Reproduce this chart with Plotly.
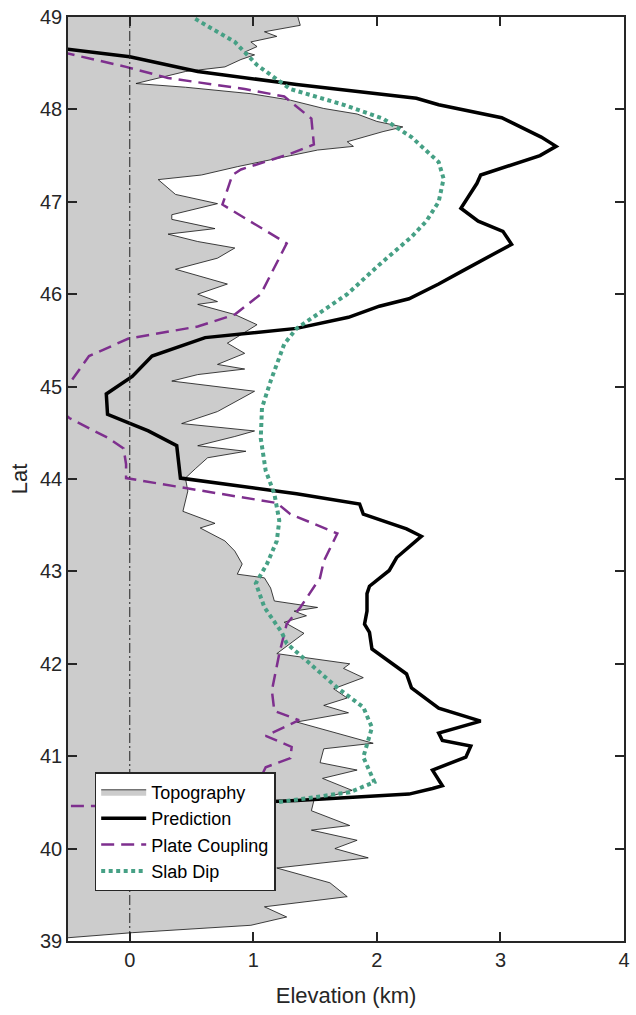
import plotly.graph_objects as go

# ---------------- data ----------------
topo_lat = [49.05, 48.91, 48.84, 48.79, 48.73, 48.68, 48.62, 48.59, 48.54, 48.46, 48.41, 48.28,
            48.24, 48.17, 48.10, 48.01, 47.95, 47.87, 47.81, 47.76, 47.65, 47.60, 47.56, 47.47,
            47.38, 47.29, 47.24, 47.08, 46.98, 46.86, 46.81, 46.71, 46.65, 46.57, 46.50, 46.39,
            46.27, 46.11, 46.00, 45.92, 45.89, 45.78, 45.67, 45.47, 45.36, 45.24, 45.19, 45.13,
            45.06, 44.95, 44.73, 44.60, 44.52, 44.46, 44.36, 44.30, 44.23, 44.11, 44.01, 43.87,
            43.65, 43.52, 43.47, 43.33, 43.22, 43.08, 42.97, 42.93, 42.82, 42.68, 42.61, 42.57,
            42.52, 42.45, 42.33, 42.11, 42.00, 41.95, 41.85, 41.73, 41.63, 41.55, 41.47, 41.37,
            41.26, 41.14, 41.08, 40.93, 40.85, 40.76, 40.63, 40.52, 40.41, 40.25, 40.20, 40.09,
            40.00, 39.90, 39.79, 39.63, 39.48, 39.37, 39.26, 39.17, 39.09, 39.03]
topo_elev = [1.35, 1.38, 1.09, 1.19, 0.98, 1.03, 0.93, 1.01, 0.90, 0.77, 0.45, 0.05,
             0.45, 0.98, 1.30, 1.57, 1.84, 2.00, 2.21, 2.05, 1.76, 1.81, 1.52, 1.19,
             0.87, 0.58, 0.23, 0.37, 0.71, 0.34, 0.34, 0.69, 0.31, 0.55, 0.85, 0.71,
             0.37, 0.79, 0.55, 0.71, 0.55, 0.85, 1.03, 0.79, 0.93, 0.71, 0.93, 0.55,
             0.34, 1.01, 0.71, 0.42, 1.01, 0.85, 0.55, 0.94, 0.63, 0.53, 0.45, 0.47,
             0.43, 0.69, 0.57, 0.77, 0.85, 0.91, 0.87, 1.09, 1.14, 1.17, 1.52, 1.33,
             1.43, 1.25, 1.41, 1.19, 1.78, 1.73, 1.89, 1.65, 1.76, 1.57, 1.77, 1.35,
             1.65, 1.97, 1.57, 1.54, 1.84, 1.56, 1.80, 1.49, 1.47, 1.78, 1.47, 1.84,
             1.66, 1.93, 1.19, 1.62, 1.76, 1.09, 1.27, 0.98, 0.02, -0.55]

pred_lat = [48.66, 48.57, 48.41, 48.27, 48.12, 48.05, 47.91, 47.70, 47.60, 47.50, 47.29, 47.20,
            46.93, 46.79, 46.68, 46.54, 46.25, 46.11, 45.95, 45.87, 45.75, 45.63, 45.53, 45.33,
            45.11, 44.92, 44.70, 44.52, 44.36, 44.01, 43.84, 43.73, 43.62, 43.46, 43.38, 43.15,
            43.01, 42.84, 42.76, 42.57, 42.43, 42.34, 42.16, 41.89, 41.74, 41.52, 41.38, 41.25,
            41.17, 41.11, 40.99, 40.85, 40.68, 40.65, 40.59, 40.56, 40.52, 40.50]
pred_elev = [-0.55, 0.00, 0.55, 1.35, 2.32, 2.50, 3.01, 3.33, 3.45, 3.32, 2.84, 2.81,
             2.68, 2.82, 3.02, 3.09, 2.69, 2.50, 2.26, 2.02, 1.77, 1.35, 0.61, 0.18,
             0.02, -0.19, -0.18, 0.15, 0.38, 0.41, 1.35, 1.86, 1.89, 2.24, 2.36, 2.16,
             2.10, 1.94, 1.92, 1.92, 1.90, 1.94, 1.96, 2.24, 2.28, 2.50, 2.84, 2.50,
             2.53, 2.76, 2.72, 2.45, 2.53, 2.45, 2.26, 1.89, 1.35, 1.00]

coup_lat = [48.62, 48.46, 48.34, 48.22, 48.14, 48.03, 47.90, 47.62, 47.52, 47.35, 47.29, 46.97,
            46.55, 46.00, 45.78, 45.65, 45.52, 45.33, 45.03, 44.85, 44.66, 44.44, 44.33, 44.16,
            44.01, 43.92, 43.74, 43.62, 43.41, 43.11, 42.93, 42.61, 42.43, 42.11, 41.82, 41.71,
            41.49, 41.39, 41.22, 41.10, 40.98, 40.88, 40.77, 40.63, 40.47, 40.46]
coup_elev = [-0.55, -0.03, 0.31, 0.93, 1.25, 1.35, 1.47, 1.49, 1.30, 0.90, 0.83, 0.75,
             1.27, 1.06, 0.85, 0.55, -0.01, -0.33, -0.49, -0.65, -0.49, -0.17, -0.05, -0.03,
             -0.03, 0.37, 1.19, 1.30, 1.68, 1.57, 1.54, 1.38, 1.27, 1.21, 1.17, 1.15,
             1.17, 1.37, 1.10, 1.31, 1.30, 1.10, 1.06, 1.06, 1.04, -0.55]

dip_lat = [48.98, 48.73, 48.48, 48.22, 48.05, 47.90, 47.70, 47.43, 47.25, 47.00, 46.79, 46.62,
           46.32, 46.00, 45.63, 45.46, 45.06, 44.77, 44.44, 44.09, 43.84, 43.55, 43.33, 43.08,
           42.87, 42.61, 42.34, 42.22, 42.00, 41.74, 41.53, 41.31, 40.99, 40.72, 40.61, 40.56,
           40.50, 40.49]
dip_elev = [0.53, 0.85, 1.03, 1.30, 1.73, 2.05, 2.28, 2.50, 2.54, 2.50, 2.40, 2.28,
            2.02, 1.76, 1.35, 1.25, 1.14, 1.07, 1.06, 1.10, 1.17, 1.21, 1.19, 1.11,
            1.02, 1.09, 1.23, 1.27, 1.46, 1.68, 1.89, 1.96, 1.89, 1.98, 1.78, 1.52,
            1.19, 1.00]

x_ticks = [0, 1, 2, 3, 4]
y_ticks = [39, 40, 41, 42, 43, 44, 45, 46, 47, 48, 49]
x_range = [-0.5, 4]
y_range = [39, 49]

# ---------------- styles ----------------
FONT = "Liberation Sans, Arial, Helvetica, sans-serif"
AX = "#262626"
GRAY = "#cccccc"
PURPLE = "#7e2f8e"
GREEN = "#46a085"

fig = go.Figure()

# invisible baseline at the left axis limit for the topography fill
fig.add_trace(go.Scatter(x=[x_range[0]] * len(topo_lat), y=topo_lat, mode="lines",
                         line=dict(width=0), showlegend=False, hoverinfo="skip"))
fig.add_trace(go.Scatter(x=topo_elev, y=topo_lat, mode="lines", name="Topography",
                         fill="tonextx", fillcolor=GRAY,
                         line=dict(color="#111111", width=0.8)))
fig.add_trace(go.Scatter(x=pred_elev, y=pred_lat, mode="lines", name="Prediction",
                         line=dict(color="black", width=3.5)))
fig.add_trace(go.Scatter(x=coup_elev, y=coup_lat, mode="lines", name="Plate Coupling",
                         line=dict(color=PURPLE, width=2.5, dash="13px,7px")))
fig.add_trace(go.Scatter(x=dip_elev, y=dip_lat, mode="lines", name="Slab Dip",
                         line=dict(color=GREEN, width=4, dash="4px,3.5px")))

fig.add_vline(x=0, line=dict(color="#222222", width=1, dash="10px,3px,2px,3px"), layer="above")

axis_common = dict(showline=True, linecolor=AX, linewidth=1.5, mirror="ticks",
                   ticks="inside", ticklen=9, tickwidth=1.5, tickcolor=AX,
                   showgrid=False, zeroline=False,
                   tickfont=dict(family=FONT, size=20, color=AX))

fig.update_layout(
    width=636, height=1015,
    margin=dict(l=68, r=6, t=15, b=74),
    paper_bgcolor="white", plot_bgcolor="white",
    font=dict(family=FONT, color=AX),
    xaxis=dict(range=x_range, tickvals=x_ticks,
               title=dict(text="Elevation (km)", font=dict(family=FONT, size=22, color=AX), standoff=18),
               **axis_common),
    yaxis=dict(range=y_range, tickvals=y_ticks,
               title=dict(text="Lat", font=dict(family=FONT, size=22, color=AX), standoff=6),
               **axis_common),
    legend=dict(x=0.048, y=0.054, xanchor="left", yanchor="bottom",
                traceorder="normal",
                bgcolor="white", bordercolor=AX, borderwidth=1.5,
                font=dict(family=FONT, size=18, color="black"),
                itemwidth=45, tracegroupgap=0),
    showlegend=True,
)

fig.write_html("out.html")
